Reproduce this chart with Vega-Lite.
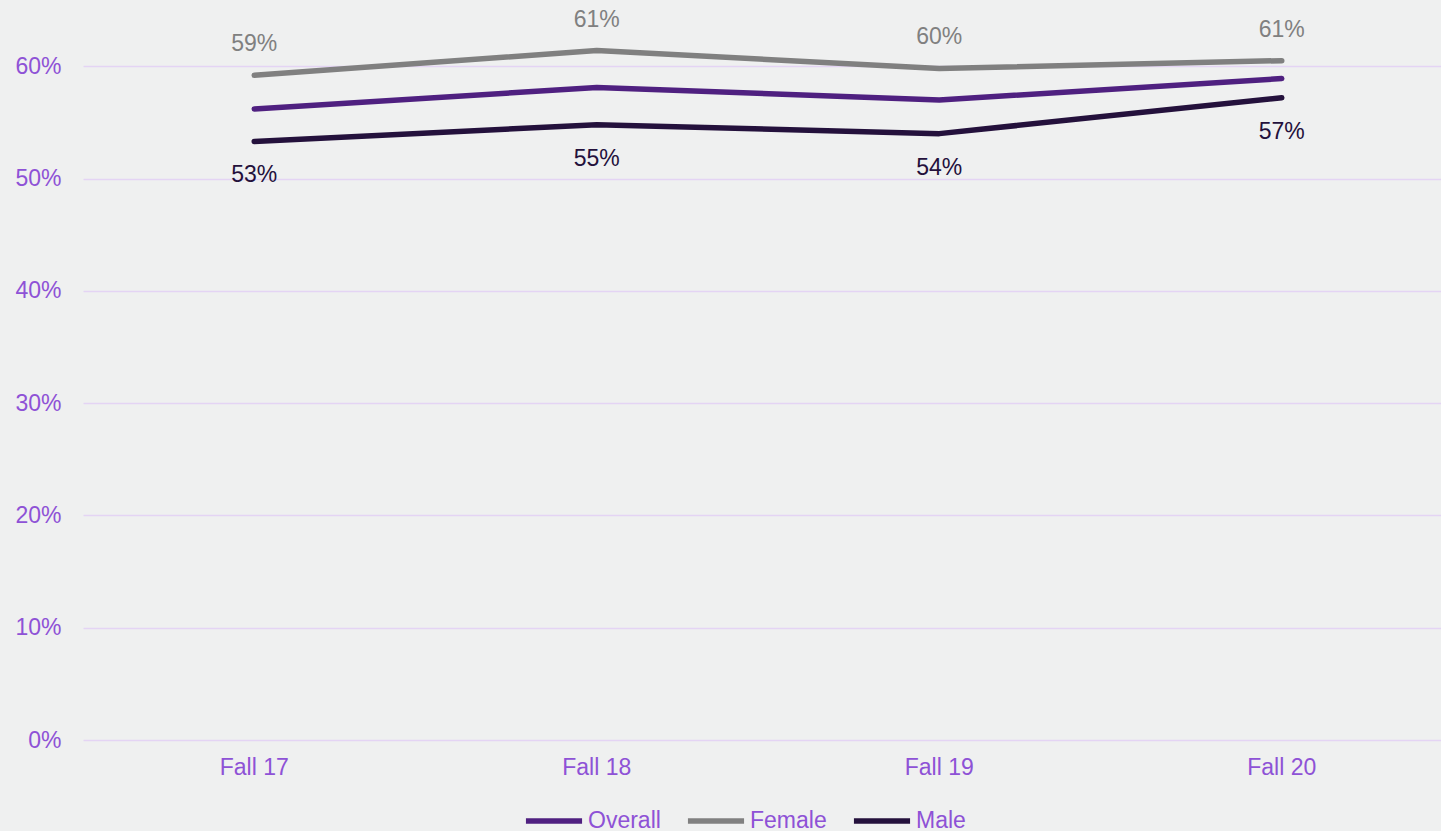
{
  "$schema": "https://vega.github.io/schema/vega-lite/v6.json",
  "autosize": "none",
  "width": 1358,
  "height": 740,
  "padding": {"left": 83, "top": 0, "right": 0, "bottom": 91},
  "background": "#eff0f0",
  "config": {
    "view": {"stroke": null},
    "font": "Liberation Sans",
    "axis": {"labelFont": "Liberation Sans", "labelColor": "#8e52d6", "labelFontSize": 23}
  },
  "data": {
    "values": [
      {"period": "Fall 17", "series": "Overall", "value": 0.562},
      {"period": "Fall 18", "series": "Overall", "value": 0.581},
      {"period": "Fall 19", "series": "Overall", "value": 0.570},
      {"period": "Fall 20", "series": "Overall", "value": 0.589},
      {"period": "Fall 17", "series": "Female", "value": 0.592},
      {"period": "Fall 18", "series": "Female", "value": 0.614},
      {"period": "Fall 19", "series": "Female", "value": 0.598},
      {"period": "Fall 20", "series": "Female", "value": 0.605},
      {"period": "Fall 17", "series": "Male", "value": 0.533},
      {"period": "Fall 18", "series": "Male", "value": 0.548},
      {"period": "Fall 19", "series": "Male", "value": 0.540},
      {"period": "Fall 20", "series": "Male", "value": 0.572}
    ]
  },
  "encoding": {
    "x": {
      "field": "period", "type": "ordinal",
      "scale": {"type": "band", "paddingInner": 0, "paddingOuter": 0, "range": [0, 1370]},
      "axis": {"title": null, "labelAngle": 0, "ticks": false, "domain": false, "grid": false, "labelPadding": 16}
    },
    "y": {
      "field": "value", "type": "quantitative",
      "scale": {"domain": [0, 0.659], "nice": false},
      "axis": {"title": null, "format": ".0%", "values": [0, 0.1, 0.2, 0.3, 0.4, 0.5, 0.6], "ticks": false, "domain": false, "grid": true, "gridColor": "#e4d4f4", "gridWidth": 1.5, "labelPadding": 22}
    }
  },
  "layer": [
    {
      "mark": {"type": "line", "strokeWidth": 5.5, "strokeCap": "round", "strokeJoin": "round"},
      "encoding": {
        "color": {
          "field": "series", "type": "nominal",
          "scale": {"domain": ["Overall", "Female", "Male"], "range": ["#4f2080", "#808080", "#24113c"]},
          "sort": ["Overall", "Female", "Male"],
          "legend": {
            "title": null, "orient": "none", "direction": "horizontal",
            "legendX": 440, "legendY": 790,
            "symbolType": "stroke", "symbolSize": 3150, "symbolStrokeWidth": 5.5,
            "labelColor": "#8e52d6", "labelFontSize": 23, "labelFont": "Liberation Sans",
            "labelOffset": 3, "columnPadding": 15
          }
        }
      }
    },
    {
      "transform": [{"filter": "datum.series === 'Female'"}],
      "mark": {"type": "text", "dy": -31, "fontSize": 23, "color": "#808080", "baseline": "middle"},
      "encoding": {"text": {"field": "value", "type": "quantitative", "format": ".0%"}}
    },
    {
      "transform": [{"filter": "datum.series === 'Male'"}],
      "mark": {"type": "text", "dy": 34, "fontSize": 23, "color": "#24113c", "baseline": "middle"},
      "encoding": {"text": {"field": "value", "type": "quantitative", "format": ".0%"}}
    }
  ]
}
